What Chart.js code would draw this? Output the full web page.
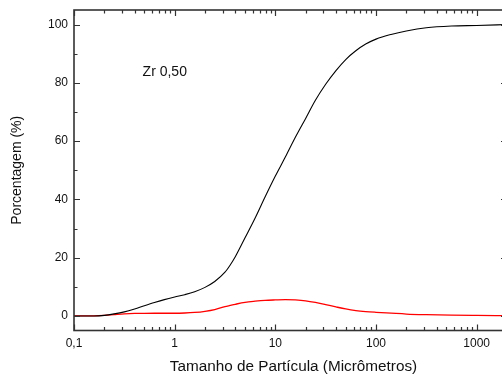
<!DOCTYPE html>
<html>
<head>
<meta charset="utf-8">
<script src="https://cdn.jsdelivr.net/npm/chart.js@4"></script>
<style>
html,body{margin:0;padding:0;background:#fff;overflow:hidden;}
canvas{display:block;}
</style>
</head>
<body>
<canvas id="c" width="512" height="378"></canvas>
<script>
// ---- data ----
const sizeX = [0.1,0.158,0.2,0.25,0.316,0.4,0.5,0.63,0.79,1,1.26,1.58,2,2.5,3.16,3.55,4,5,6.3,7.9,10,12.6,15.8,20,25,31.6,40,50,63,79,100,141,200,316,562,1000,2000];
const cumY  = [0,0,0.2,0.7,1.4,2.4,3.5,4.6,5.6,6.5,7.3,8.3,9.8,11.8,15,17.4,20.3,26.8,33.6,40.8,48,54.6,61.3,67.8,74,79.5,84.2,88,91,93.3,95,96.6,97.8,98.9,99.5,99.7,100];
const freqY = [0,0.05,0.2,0.45,0.7,0.85,0.9,0.92,0.92,0.92,1.0,1.2,1.6,2.2,3.2,3.6,4.0,4.65,5.05,5.35,5.5,5.6,5.5,5.2,4.65,3.9,3.1,2.4,1.85,1.5,1.25,0.95,0.65,0.45,0.3,0.2,0.1];
const xTickValues = [0.1,1,10,100,1000];
const xTickLabels = ['0,1','1','10','100','1000'];
const yTickValues = [0,20,40,60,80,100];
const yMinorValues = [10,30,50,70,90];
const annotationText = 'Zr 0,50';
const annotationPos = {x:0.48, y:83.7};
const xTitle = 'Tamanho de Partícula (Micrômetros)';
const yTitle = 'Porcentagem (%)';

const FONT = '"Liberation Sans", Arial, sans-serif';
const toPts = (xs, ys) => xs.map((x,i)=>({x:x, y:ys[i]}));

const frame = {
  id:'frame',
  afterDraw(chart){
    const {ctx, chartArea:a, scales:{x, y}} = chart;
    ctx.save();
    ctx.strokeStyle = '#333';
    ctx.lineWidth = 1.6;
    ctx.strokeRect(a.left, a.top, a.right - a.left, a.bottom - a.top);
    ctx.lineWidth = 1.2;
    ctx.beginPath();
    for (let d = -1; d <= 3; d++) {
      for (let m = 1; m <= 9; m++) {
        const v = m * Math.pow(10, d);
        if (v < x.min || v > x.max) continue;
        const px = Math.round(x.getPixelForValue(v)) + 0.5;
        const len = m === 1 ? 6 : 3.5;
        ctx.moveTo(px, a.bottom); ctx.lineTo(px, a.bottom - len);
        ctx.moveTo(px, a.top); ctx.lineTo(px, a.top + len);
      }
    }
    yTickValues.forEach(v => {
      const py = Math.round(y.getPixelForValue(v)) + 0.5;
      ctx.moveTo(a.left, py); ctx.lineTo(a.left + 6, py);
      ctx.moveTo(a.right, py); ctx.lineTo(a.right - 6, py);
    });
    yMinorValues.forEach(v => {
      const py = Math.round(y.getPixelForValue(v)) + 0.5;
      ctx.moveTo(a.left, py); ctx.lineTo(a.left + 3.5, py);
      ctx.moveTo(a.right, py); ctx.lineTo(a.right - 3.5, py);
    });
    ctx.stroke();
    ctx.fillStyle = '#111';
    ctx.font = '14px ' + FONT;
    ctx.textAlign = 'left';
    ctx.textBaseline = 'middle';
    ctx.fillText(annotationText, x.getPixelForValue(annotationPos.x), y.getPixelForValue(annotationPos.y));
    ctx.font = '15.3px ' + FONT;
    ctx.textAlign = 'center';
    ctx.fillText(xTitle, 293.5, 367);
    ctx.restore();
  }
};

new Chart(document.getElementById('c'), {
  type: 'line',
  data: {
    datasets: [
      {data: toPts(sizeX, cumY), borderColor:'#000', borderWidth:1.1, pointRadius:0, cubicInterpolationMode:'monotone', fill:false},
      {data: toPts(sizeX, freqY), borderColor:'#ff0000', borderWidth:1.3, pointRadius:0, cubicInterpolationMode:'monotone', fill:false}
    ]
  },
  options: {
    responsive:false,
    animation:false,
    devicePixelRatio:1,
    layout:{padding:{left:0, top:10, right:5, bottom:0}},
    plugins:{legend:{display:false}, tooltip:{enabled:false}},
    scales:{
      x:{
        type:'logarithmic', min:0.1, max:2000,
        grid:{display:false, drawTicks:false}, border:{display:false},
        afterBuildTicks(s){ s.ticks = xTickValues.map(v=>({value:v})); },
        afterFit(s){ s.height = 47.5; s.paddingLeft = 0; s.paddingRight = 0; },
        ticks:{autoSkip:false, maxRotation:0, padding:6, color:'#111',
          font:{family:FONT, size:12},
          callback:(v)=>{ const i = xTickValues.indexOf(v); return i>=0 ? xTickLabels[i] : ''; }},
        title:{display:false}
      },
      y:{
        type:'linear', min:-5, max:105,
        grid:{display:false, drawTicks:false}, border:{display:false},
        afterBuildTicks(s){ s.ticks = yTickValues.map(v=>({value:v})); },
        afterFit(s){ s.width = 74; s.paddingTop = 0; s.paddingBottom = 0; },
        ticks:{padding:6, color:'#111', font:{family:FONT, size:12}},
        title:{display:true, text:yTitle, color:'#111', padding:{top:8.6,bottom:0},
          font:{family:FONT, size:14}}
      }
    }
  },
  plugins:[frame]
});
</script>
</body>
</html>
